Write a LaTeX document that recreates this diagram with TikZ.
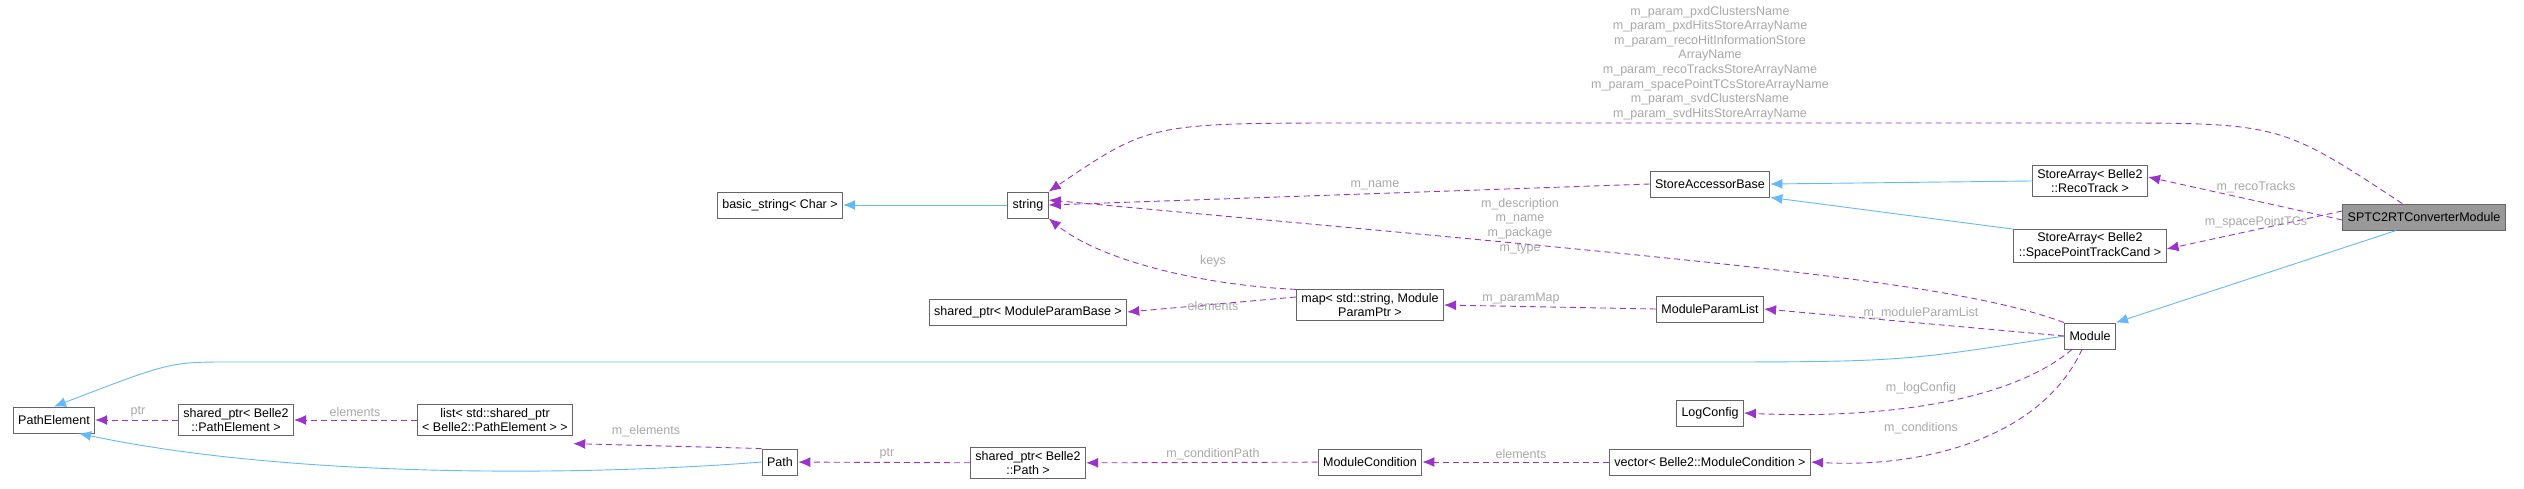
\documentclass[tikz,border=0pt]{standalone}
\usepackage{fontspec}
\setmainfont{Liberation Sans}
\usepackage{tikz}
\usetikzlibrary{arrows.meta, positioning}

\definecolor{memb}{HTML}{9A32CD}
\definecolor{inh}{HTML}{63B8FF}
\definecolor{lbl}{HTML}{A8A8A8}

\tikzset{
    cls/.style={draw=black!60, line width=0.9pt, fill=white, align=center, inner xsep=5pt,
                minimum height=26pt, font=\fontsize{12.5}{14.5}\selectfont},
    main/.style={cls, fill=black!40},
    base/.style={draw=inh, line width=0.9pt, -{Latex[length=12pt,width=10pt]}},
    member/.style={draw=memb, line width=0.9pt, dash pattern=on 6pt off 4pt,
                   -{Latex[length=12pt,width=10pt]}},
    lab/.style={text=lbl, align=center, font=\fontsize{12.5}{14.6}\selectfont, inner sep=0pt}
}

\begin{document}
\begin{tikzpicture}[x=1pt,y=-1pt]
                \useasboundingbox (0,0) rectangle (2524,488);

                \node[main] (conv) at (2424,217) {SPTC2RTConverterModule};
                \node[cls] (reco) at (2090,181) {StoreArray< Belle2\\::RecoTrack >};
                \node[cls] (sptc) at (2090,246) {StoreArray< Belle2\\::SpacePointTrackCand >};
                \node[cls] (accessor) at (1710,184) {StoreAccessorBase};
                \node[cls] (module) at (2090,336) {Module};
                \node[cls] (paramlist) at (1710,309) {ModuleParamList};
                \node[cls] (logcfg) at (1710,413) {LogConfig};
                \node[cls] (condvec) at (1710,462) {vector< Belle2::ModuleCondition >};
                \node[cls] (cond) at (1370,462) {ModuleCondition};
                \node[cls] (parammap) at (1370,305) {map< std::string, Module\\ParamPtr >};
                \node[cls] (string) at (1028,205) {string};
                \node[cls] (basicstr) at (780,205) {basic\_string< Char >};
                \node[cls] (parambase) at (1028,312) {shared\_ptr< ModuleParamBase >};
                \node[cls] (pathptr) at (1028,463) {shared\_ptr< Belle2\\::Path >};
                \node[cls] (path) at (780,462) {Path};
                \node[cls] (elemlist) at (495,420) {list< std::shared\_ptr\\< Belle2::PathElement > >};
                \node[cls] (elemptr) at (236,420) {shared\_ptr< Belle2\\::PathElement >};
                \node[cls] (pathelem) at (54,420) {PathElement};

                \draw[base] (string) -- (basicstr);
                \draw[base] (reco.west) -- (accessor.east);
                \draw[base] (sptc.north west) -- (accessor.south east);
                \draw[base] (conv.south west) ++(54,0) -- (module.north east);
                \draw[base] (module.west) .. controls (1900,362) .. (1680,362) -- (230,362)
                    .. controls (170,362) .. (pathelem.north);
                \draw[base] (path.west) .. controls (600,475) and (300,480) .. ([xshift=25pt]pathelem.south);

                \draw[member] ([xshift=60pt]conv.north west) .. controls (2280,123) .. (2100,123)
                    -- (1360,123) .. controls (1150,123) .. (string.north east);
                \draw[member] ([yshift=-3pt]conv.west) -- ([yshift=4pt]reco.east);
                \draw[member] ([yshift=6pt]conv.west) -- ([yshift=-3pt]sptc.east);
                \draw[member] (accessor.west) -- (string.east);
                \draw[member] (module.north west) .. controls (1950,280) and (1700,260) .. ([yshift=5pt]string.east);
                \draw[member] (parammap.north west) .. controls (1200,285) and (1100,260) .. (string.south east);
                \draw[member] ([yshift=8pt]parammap.west) -- (parambase.east);
                \draw[member] (paramlist.west) -- (parammap.east);
                \draw[member] (module.west) -- (paramlist.east);
                \draw[member] ([xshift=8pt]module.south west) .. controls (2000,410) and (1850,418) .. (logcfg.east);
                \draw[member] ([xshift=18pt]module.south west) .. controls (2040,440) and (1920,468) .. (condvec.east);
                \draw[member] (condvec) -- (cond);
                \draw[member] (cond) -- (pathptr);
                \draw[member] (pathptr) -- (path);
                \draw[member] (path.north west) -- ([yshift=-8pt]elemlist.south east);
                \draw[member] (elemlist) -- (elemptr);
                \draw[member] (elemptr) -- (pathelem);

                \node[lab] (lbigname) at (1710,63) {m\_param\_pxdClustersName\\m\_param\_pxdHitsStoreArrayName\\m\_param\_recoHitInformationStore\\ArrayName\\m\_param\_recoTracksStoreArrayName\\m\_param\_spacePointTCsStoreArrayName\\m\_param\_svdClustersName\\m\_param\_svdHitsStoreArrayName};
                \node[lab] (lreco) at (2256,187) {m\_recoTracks};
                \node[lab] (lsptc) at (2256,222) {m\_spacePointTCs};
                \node[lab] (lname) at (1375,185) {m\_name};
                \node[lab] (lmodstr) at (1520,226) {m\_description\\m\_name\\m\_package\\m\_type};
                \node[lab] (lkeys) at (1213,261) {keys};
                \node[lab] (lpelem) at (1213,306) {elements};
                \node[lab] (lpmap) at (1521,298) {m\_paramMap};
                \node[lab] (lplist) at (1921,313) {m\_moduleParamList};
                \node[lab] (llog) at (1921,388) {m\_logConfig};
                \node[lab] (lcondv) at (1921,428) {m\_conditions};
                \node[lab] (lcelem) at (1521,454) {elements};
                \node[lab] (lcpath) at (1213,454) {m\_conditionPath};
                \node[lab] (lptr) at (887,454) {ptr};
                \node[lab] (lmelem) at (646,431) {m\_elements};
                \node[lab] (lelem) at (355,412) {elements};
                \node[lab] (lptr2) at (138,412) {ptr};
            \end{tikzpicture}
\end{document}
